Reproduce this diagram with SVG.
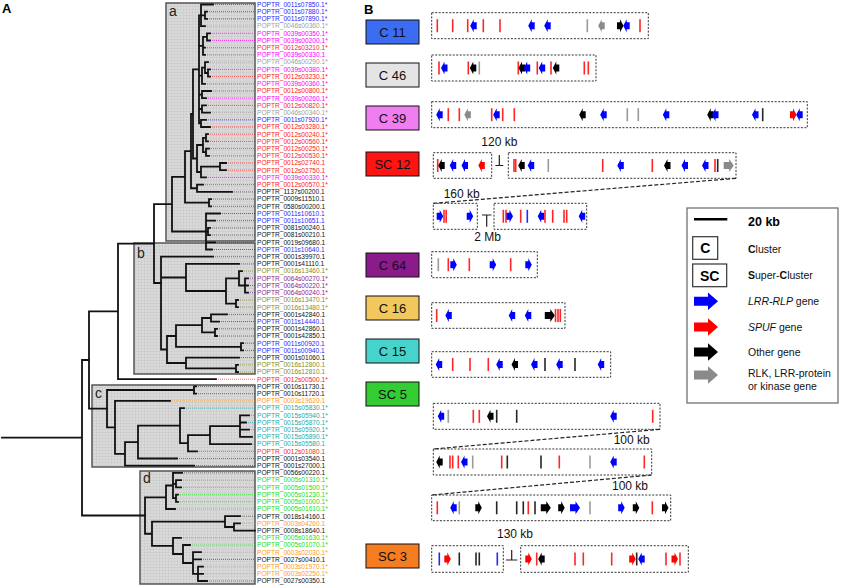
<svg xmlns="http://www.w3.org/2000/svg" xmlns:xlink="http://www.w3.org/1999/xlink" width="843" height="586" viewBox="0 0 843 586">
<style>
text{font-family:"Liberation Sans",Arial,sans-serif}
.lb{font-size:6.6px}
.cB{fill:#1f1fff}.cG{fill:#a0a0a0}.cM{fill:#ff00ff}.cR{fill:#ff2020}.cK{fill:#111}.cO{fill:#8b8b22}.cP{fill:#8b1e8b}.cY{fill:#ff9c1a}.cT{fill:#22aaaa}.cN{fill:#22dd22}
.dt{fill:none;stroke-width:0.7;stroke-dasharray:1 1}
.tree{fill:none;stroke:#111;stroke-width:1.8;stroke-linecap:square}
.clade{fill:url(#grid);stroke:#555;stroke-width:1.5}
.cl{font-size:14px;fill:#222}
.trk{fill:none;stroke:#333;stroke-width:1;stroke-dasharray:2 1.5}
.u{fill:#0000ff}.s{fill:#ff0000}.o{fill:#000}.k{fill:#8a8a8a}
.conn{fill:none;stroke:#222;stroke-width:1.2;stroke-dasharray:4 2}
.gap{fill:none;stroke:#222;stroke-width:1.2}
.kb{font-size:12px;fill:#111;text-anchor:middle}
.lab{stroke:#111;stroke-width:1}
.labt{font-size:13px;fill:#111;text-anchor:middle}
.lg{font-size:10.5px;fill:#111}
</style>
<defs>
<pattern id="grid" width="3" height="3" patternUnits="userSpaceOnUse"><rect width="3" height="3" fill="#dadada"/><path d="M0 0.25H3M0.25 0V3" stroke="#c2c2c2" stroke-width="0.5"/></pattern>
<rect id="b" x="-0.8" y="-6.5" width="1.6" height="13" opacity="0.85"/>
<path id="l" d="M-3.5 0L0-6.5V-3.5H3V3.5H0V6.5Z"/>
<path id="r" d="M3.5 0L0-6.5V-3.5H-3V3.5H0V6.5Z"/>
<path id="R" d="M5 0L0.5-6.5V-3.5H-5V3.5H0.5V6.5Z"/>
<path id="la" d="M0-4.5H14V-8.7L24 0 14 8.7V4.5H0Z"/>
</defs>
<rect width="843" height="586" fill="#fff"/>

<g id="panelA">
<text x="2" y="13" font-size="13" font-weight="bold">A</text>
<g id="clade-boxes">
<rect class="clade" x="166" y="3" width="89" height="238"/>
<rect class="clade" x="134" y="243" width="121" height="131"/>
<rect class="clade" x="92" y="385" width="163" height="82"/>
<rect class="clade" x="140" y="471" width="115" height="113"/>
<text class="cl" x="169" y="16">a</text>
<text class="cl" x="137" y="258">b</text>
<text class="cl" x="95" y="398">c</text>
<text class="cl" x="143" y="483">d</text>
</g>
<g id="leaf-lines">
<path class="dt" stroke="#1f1fff" d="M213 4.5H255M207 11.7H255M207 18.9H255M206 119.8H255M220 213.5H255M215 220.7H255M212 249.5H255M219 321.6H255M243 343.2H255M243 350.4H255"/>
<path class="dt" stroke="#a0a0a0" d="M205 26.1H255M208 62.1H255M210 112.6H255"/>
<path class="dt" stroke="#ff00ff" d="M210 33.3H255M210 40.5H255M205 54.9H255M210 69.4H255M205 83.8H255M206 98.2H255M206 177.4H255"/>
<path class="dt" stroke="#ff2020" d="M205 47.7H255M210 76.6H255M211 91H255M206 105.4H255M210 127H255M208 134.2H255M208 141.4H255M209 148.6H255M209 155.8H255M226 163H255M226 170.2H255M203 184.6H255M216 379.2H255M197 451.3H255"/>
<path class="dt" stroke="#444" d="M232 191.9H255M211 199.1H255M211 206.3H255M210 227.9H255M210 235.1H255M215 242.3H255M213 256.7H255M239 263.9H255M227 314.4H255M217 328.8H255M217 336H255M239 357.6H255M196 386.4H255M196 393.7H255M177 458.5H255M194 465.7H255M182 472.9H255M240 516.2H255M201 559.4H255M207 581H255"/>
<path class="dt" stroke="#8b8b22" d="M242 271.1H255M238 300H255M238 307.2H255M238 364.8H255M238 372H255"/>
<path class="dt" stroke="#8b1e8b" d="M248 278.3H255M248 285.5H255M248 292.7H255"/>
<path class="dt" stroke="#ff9c1a" d="M170 400.9H255M240 523.4H255M201 552.2H255M203 566.6H255M203 573.8H255"/>
<path class="dt" stroke="#22aaaa" d="M184 408.1H255M249 415.3H255M246 422.5H255M249 429.7H255M252 436.9H255M251 444.1H255"/>
<path class="dt" stroke="#22dd22" d="M181 480.1H255M181 487.4H255M178 494.6H255M178 501.8H255M175 509H255M181 537.8H255M190 545H255"/>
</g>
<g id="tree">
<path class="tree" d="M205 11.7V18.9M205 11.7H207M205 18.9H207M201 4.5V26.1M201 4.5H213M201 15.3H205M201 26.1H205
M207 33.3V40.5M207 33.3H210M207 40.5H210M203 36.9V54.9M203 36.9H207M203 47.7H205M203 54.9H205
M208 69.4V76.6M208 69.4H210M208 76.6H210M205 62.1V73M205 62.1H208M205 73H208M202 67.55V83.8M202 67.55H205M202 83.8H205
M202 91V98.2M202 91H211M202 98.2H206M202 105.4V112.6M202 105.4H206M202 112.6H210M201 119.8V127M201 119.8H206M201 127H210
M199 15.3V123.4M199 15.3H201M199 45.9H203M199 75.7H202M199 94.6H202M199 109H202M199 123.4H201
M206 134.2V141.4M206 134.2H208M206 141.4H208M206 148.6V155.8M206 148.6H209M206 155.8H209M203 137.8V152.2M203 137.8H206M203 152.2H206
M220 163V170.2M220 163H226M220 170.2H226M201 166.6V177.4M201 166.6H220M201 177.4H206M197 145V172M197 145H203M197 172H201
M193 69.35V158.5M193 69.35H199M193 158.5H197M197 184.6V191.9M197 184.6H203M197 191.9H232M191 113.9V188.25M191 113.9H193M191 188.25H197
M209 199.1V206.3M209 199.1H211M209 206.3H211M185 151.1V202.7M185 151.1H191M185 202.7H209
M208 227.9V235.1M208 227.9H210M208 235.1H210M206 213.5V249.5M206 213.5H220M206 220.7H215M206 231.5H208M206 242.3H215M206 249.5H212
M172 176.9V231.5M172 176.9H185M172 231.5H206M154 204.2V283M154 204.2H172M154 283H161"/>
<path class="tree" d="M245 278.3V292.7M245 278.3H248M245 285.5H248M245 292.7H248M239 271.1V285.5M239 271.1H242M239 285.5H245
M236 300V307.2M236 300H238M236 307.2H238M226 278.3V303.6M226 278.3H239M226 303.6H236M186 263.9V291M186 263.9H239M186 291H226
M211 314.4V321.6M211 314.4H227M211 321.6H219M215 328.8V336M215 328.8H217M215 336H217M202 318V332.4M202 318H211M202 332.4H215
M241 343.2V350.4M241 343.2H243M241 350.4H243M176 325.2V346.8M176 325.2H202M176 346.8H241
M236 364.8V372M236 364.8H238M236 372H238M186 357.6V368.4M186 357.6H239M186 368.4H236M167 336V363M167 336H176M167 363H186
M161 256.7V349.5M161 256.7H213M161 277.5H186M161 349.5H167
M118 243.6V379.2M118 243.6H154M118 379.2H216M89 311.4V408.7M89 311.4H118M89 408.7H107
M82 360V515.5M82 360H89M82 515.5H145M2 437.7H82"/>
<path class="tree" d="M240 415.3V436.9M240 415.3H249M240 422.5H246M240 429.7H249M240 436.9H252M210 426.1V444.1M210 426.1H240M210 444.1H251
M188 435.1V451.3M188 435.1H210M188 451.3H197M180 408.1V443.2M180 408.1H184M180 443.2H188M138 425.7V458.5M138 425.7H180M138 458.5H177
M125 442.1V465.7M125 442.1H138M125 465.7H194M115 400.9V453.9M115 400.9H170M115 453.9H125
M194 386.4V393.7M194 386.4H196M194 393.7H196M107 390V427.4M107 390H194M107 427.4H115"/>
<path class="tree" d="M176 480.1V487.4M176 480.1H181M176 487.4H181M176 494.6V501.8M176 494.6H178M176 501.8H178M173 472.9V498.2M173 472.9H182M173 483.8H176M173 498.2H176
M166 485.5V509M166 485.5H173M166 509H175M234 523.4V530.6M234 523.4H240M234 530.6H255M225 516.2V527M225 516.2H240M225 527H234
M198 566.6V581M198 566.6H203M198 573.8H203M198 581H207M193 552.2V573.8M193 552.2H201M193 559.4H201M193 573.8H198
M183 545V563M183 545H190M183 563H193M173 537.8V554M173 537.8H181M173 554H183M152 521.6V545.9M152 521.6H225M152 545.9H173
M145 497.3V533.75M145 497.3H166M145 533.75H152"/>
</g>
<g id="leaf-labels" class="lb">
<text class="cB" x="257" y="6.8">POPTR_0011s07850.1*</text>
<text class="cB" x="257" y="14">POPTR_0011s07880.1*</text>
<text class="cB" x="257" y="21.2">POPTR_0011s07890.1*</text>
<text class="cG" x="257" y="28.4">POPTR_0046s00360.1*</text>
<text class="cM" x="257" y="35.6">POPTR_0039s00350.1*</text>
<text class="cM" x="257" y="42.8">POPTR_0039s00200.1*</text>
<text class="cR" x="257" y="50">POPTR_0012s03210.1*</text>
<text class="cM" x="257" y="57.2">POPTR_0039s00330.1</text>
<text class="cG" x="257" y="64.4">POPTR_0046s00290.1*</text>
<text class="cM" x="257" y="71.7">POPTR_0039s00380.1*</text>
<text class="cR" x="257" y="78.9">POPTR_0012s03230.1*</text>
<text class="cM" x="257" y="86.1">POPTR_0039s00360.1*</text>
<text class="cR" x="257" y="93.3">POPTR_0012s00800.1*</text>
<text class="cM" x="257" y="100.5">POPTR_0039s00260.1*</text>
<text class="cR" x="257" y="107.7">POPTR_0012s00820.1*</text>
<text class="cG" x="257" y="114.9">POPTR_0046s00340.1*</text>
<text class="cB" x="257" y="122.1">POPTR_0011s07920.1*</text>
<text class="cR" x="257" y="129.3">POPTR_0012s03280.1*</text>
<text class="cR" x="257" y="136.5">POPTR_0012s00240.1*</text>
<text class="cR" x="257" y="143.7">POPTR_0012s00560.1*</text>
<text class="cR" x="257" y="150.9">POPTR_0012s00250.1*</text>
<text class="cR" x="257" y="158.1">POPTR_0012s00530.1*</text>
<text class="cR" x="257" y="165.3">POPTR_0012s02740.1</text>
<text class="cR" x="257" y="172.5">POPTR_0012s02750.1</text>
<text class="cM" x="257" y="179.7">POPTR_0039s00330.1*</text>
<text class="cR" x="257" y="186.9">POPTR_0012s00570.1*</text>
<text class="cK" x="257" y="194.2">POPTR_1137s00200.1</text>
<text class="cK" x="257" y="201.4">POPTR_0009s11510.1</text>
<text class="cK" x="257" y="208.6">POPTR_0580s00200.1</text>
<text class="cB" x="257" y="215.8">POPTR_0011s10610.1</text>
<text class="cB" x="257" y="223">POPTR_0011s10651.1</text>
<text class="cK" x="257" y="230.2">POPTR_0081s00240.1</text>
<text class="cK" x="257" y="237.4">POPTR_0081s00210.1</text>
<text class="cK" x="257" y="244.6">POPTR_0019s09680.1</text>
<text class="cB" x="257" y="251.8">POPTR_0011s10640.1</text>
<text class="cK" x="257" y="259">POPTR_0001s39970.1</text>
<text class="cK" x="257" y="266.2">POPTR_0001s41110.1</text>
<text class="cO" x="257" y="273.4">POPTR_0016s13460.1*</text>
<text class="cP" x="257" y="280.6">POPTR_0064s00270.1*</text>
<text class="cP" x="257" y="287.8">POPTR_0064s00220.1*</text>
<text class="cP" x="257" y="295">POPTR_0064s00240.1*</text>
<text class="cO" x="257" y="302.3">POPTR_0016s13470.1*</text>
<text class="cO" x="257" y="309.5">POPTR_0016s13480.1*</text>
<text class="cK" x="257" y="316.7">POPTR_0001s42840.1</text>
<text class="cB" x="257" y="323.9">POPTR_0011s14440.1</text>
<text class="cK" x="257" y="331.1">POPTR_0001s42860.1</text>
<text class="cK" x="257" y="338.3">POPTR_0001s42850.1</text>
<text class="cB" x="257" y="345.5">POPTR_0011s00920.1</text>
<text class="cB" x="257" y="352.7">POPTR_0011s00940.1</text>
<text class="cK" x="257" y="359.9">POPTR_0001s01060.1</text>
<text class="cO" x="257" y="367.1">POPTR_0016s12800.1</text>
<text class="cO" x="257" y="374.3">POPTR_0016s12810.1</text>
<text class="cR" x="257" y="381.5">POPTR_0012s00500.1*</text>
<text class="cK" x="257" y="388.7">POPTR_0010s11730.1</text>
<text class="cK" x="257" y="396">POPTR_0010s11720.1</text>
<text class="cY" x="257" y="403.2">POPTR_0003s19620.1</text>
<text class="cT" x="257" y="410.4">POPTR_0015s05830.1*</text>
<text class="cT" x="257" y="417.6">POPTR_0015s05940.1*</text>
<text class="cT" x="257" y="424.8">POPTR_0015s05870.1*</text>
<text class="cT" x="257" y="432">POPTR_0015s05920.1*</text>
<text class="cT" x="257" y="439.2">POPTR_0015s05890.1*</text>
<text class="cT" x="257" y="446.4">POPTR_0015s05580.1</text>
<text class="cR" x="257" y="453.6">POPTR_0012s01080.1</text>
<text class="cK" x="257" y="460.8">POPTR_0001s03540.1</text>
<text class="cK" x="257" y="468">POPTR_0001s27000.1</text>
<text class="cK" x="257" y="475.2">POPTR_0056s00220.1</text>
<text class="cN" x="257" y="482.4">POPTR_0005s01310.1*</text>
<text class="cN" x="257" y="489.7">POPTR_0005s01500.1*</text>
<text class="cN" x="257" y="496.9">POPTR_0005s01230.1*</text>
<text class="cN" x="257" y="504.1">POPTR_0005s01000.1*</text>
<text class="cN" x="257" y="511.3">POPTR_0005s01610.1*</text>
<text class="cK" x="257" y="518.5">POPTR_0018s14160.1</text>
<text class="cY" x="257" y="525.7">POPTR_0003s04260.1</text>
<text class="cK" x="257" y="532.9">POPTR_0008s18640.1</text>
<text class="cN" x="257" y="540.1">POPTR_0005s01630.1*</text>
<text class="cN" x="257" y="547.3">POPTR_0005s01070.1*</text>
<text class="cY" x="257" y="554.5">POPTR_0003s02030.1*</text>
<text class="cK" x="257" y="561.7">POPTR_0027s00410.1</text>
<text class="cY" x="257" y="568.9">POPTR_0003s01970.1*</text>
<text class="cY" x="257" y="576.1">POPTR_0003s02250.1*</text>
<text class="cK" x="257" y="583.3">POPTR_0027s00350.1</text>
</g>
</g>

<g id="panelB">
<text x="364" y="14" font-size="13" font-weight="bold">B</text>

<g id="row-labels">
<g id="lab-C11"><rect class="lab" x="366" y="20" width="53" height="24" fill="#3b6cf2"/><text class="labt" x="392.5" y="36.5">C 11</text></g>
<g id="lab-C46"><rect class="lab" x="366" y="63" width="53" height="24" fill="#e4e4e4"/><text class="labt" x="392.5" y="79.5">C 46</text></g>
<g id="lab-C39"><rect class="lab" x="366" y="106" width="53" height="24" fill="#f07ef0"/><text class="labt" x="392.5" y="122.5">C 39</text></g>
<g id="lab-SC12"><rect class="lab" x="366" y="152" width="53" height="24" fill="#ff1414"/><text class="labt" x="392.5" y="168.5">SC 12</text></g>
<g id="lab-C64"><rect class="lab" x="366" y="253" width="53" height="24" fill="#8b1a8b"/><text class="labt" x="392.5" y="269.5">C 64</text></g>
<g id="lab-C16"><rect class="lab" x="366" y="296" width="53" height="24" fill="#f2c75c"/><text class="labt" x="392.5" y="312.5">C 16</text></g>
<g id="lab-C15"><rect class="lab" x="366" y="339" width="53" height="24" fill="#46d3cb"/><text class="labt" x="392.5" y="355.5">C 15</text></g>
<g id="lab-SC5"><rect class="lab" x="366" y="382" width="53" height="24" fill="#33cc33"/><text class="labt" x="392.5" y="398.5">SC 5</text></g>
<g id="lab-SC3"><rect class="lab" x="366" y="544" width="53" height="24" fill="#f57c20"/><text class="labt" x="392.5" y="560.5">SC 3</text></g>
</g>

<g id="connectors">
<path class="conn" d="M736 178.3L433.3 203.3"/>
<path class="conn" d="M660 429.3L433.3 449"/>
<path class="conn" d="M651.7 475L431.7 495"/>
<path class="gap" d="M499.3 155V165.5M495.3 165.5H503.3"/>
<path class="gap" d="M482 215H491.4M486.7 215V226.7"/>
<path class="gap" d="M511.7 550V560M506 560H517.3"/>
<text class="kb" x="499.3" y="145.5">120 kb</text>
<text class="kb" x="461.7" y="197.5">160 kb</text>
<text class="kb" x="487.7" y="241">2 Mb</text>
<text class="kb" x="631.7" y="444.3">100 kb</text>
<text class="kb" x="630" y="490.3">100 kb</text>
<text class="kb" x="515" y="538" font-size="10.5">130 kb</text>
</g>

<g id="track-C11">
<rect class="trk" x="431.7" y="12.7" width="216.6" height="26"/>
<g transform="translate(0 25.7)">
<use href="#b" x="437.3" class="s"/><use href="#b" x="452.7" class="s"/><use href="#b" x="467.7" class="s"/><use href="#l" x="473.7" class="u"/><use href="#b" x="483.3" class="s"/><use href="#b" x="500" class="s"/><use href="#l" x="531.7" class="u"/><use href="#l" x="547.7" class="u"/><use href="#b" x="587.3" class="k"/><use href="#l" x="601.7" class="k"/><use href="#r" x="620" class="o"/><use href="#l" x="626.7" class="u"/><use href="#b" x="640" class="s"/>
</g></g>

<g id="track-C46">
<rect class="trk" x="431.7" y="55" width="164.3" height="26"/>
<g transform="translate(0 68)">
<use href="#b" x="439" class="s"/><use href="#l" x="444.5" class="u"/><use href="#b" x="468.3" class="s"/><use href="#l" x="473.3" class="o"/><use href="#b" x="479.3" class="k"/><use href="#b" x="518.3" class="s"/><use href="#l" x="522" class="o"/><use href="#l" x="527.2" class="u"/><use href="#b" x="537.3" class="s"/><use href="#l" x="542.2" class="u"/><use href="#b" x="551" class="s"/><use href="#l" x="556.3" class="o"/><use href="#b" x="584.3" class="s"/><use href="#b" x="588.3" class="s"/>
</g></g>

<g id="track-C39">
<rect class="trk" x="431.7" y="101.7" width="375.6" height="26"/>
<g transform="translate(0 114.7)">
<use href="#l" x="439.7" class="u"/><use href="#b" x="448.3" class="s"/><use href="#b" x="459.3" class="s"/><use href="#l" x="467.8" class="k"/><use href="#b" x="491.7" class="s"/><use href="#l" x="496.7" class="u"/><use href="#b" x="502.7" class="s"/><use href="#b" x="514.3" class="s"/><use href="#l" x="582.7" class="o"/><use href="#l" x="603.7" class="u"/><use href="#b" x="627.3" class="k"/><use href="#b" x="638.3" class="k"/><use href="#l" x="666.3" class="u"/><use href="#l" x="710.7" class="o"/><use href="#l" x="715.5" class="u"/><use href="#l" x="755.5" class="u"/><use href="#b" x="762.7" class="o"/><use href="#r" x="793" class="s"/><use href="#l" x="799.7" class="u"/>
</g></g>

<g id="track-SC12">
<rect class="trk" x="433.3" y="152.7" width="58.4" height="25.6"/>
<rect class="trk" x="508.3" y="152.7" width="227.7" height="25.6"/>
<rect class="trk" x="433.3" y="203.3" width="44" height="26"/>
<rect class="trk" x="494" y="203.3" width="92.7" height="26"/>
<g transform="translate(0 165.5)">
<use href="#b" x="437.7" class="s"/><use href="#l" x="441.7" class="o"/><use href="#l" x="453.2" class="u"/><use href="#l" x="465" class="u"/><use href="#l" x="481.8" class="s"/>
<use href="#b" x="514" class="s"/><use href="#b" x="515.7" class="s"/><use href="#l" x="521.7" class="o"/><use href="#l" x="531.2" class="u"/><use href="#b" x="548.3" class="k"/><use href="#b" x="602.7" class="s"/><use href="#l" x="620.8" class="u"/><use href="#b" x="652.3" class="s"/><use href="#l" x="667.5" class="o"/><use href="#l" x="685" class="u"/><use href="#l" x="705.5" class="u"/><use href="#b" x="715" class="s"/><use href="#b" x="717.7" class="o"/><use href="#R" x="728.7" class="k"/>
</g>
<g transform="translate(0 216.3)">
<use href="#r" x="439.7" class="u"/><use href="#b" x="444" class="s"/><use href="#b" x="446.2" class="s"/><use href="#r" x="469.7" class="u"/>
<use href="#b" x="503.3" class="s"/><use href="#b" x="506" class="s"/><use href="#r" x="509.5" class="u"/><use href="#b" x="520.7" class="s"/><use href="#b" x="527.3" class="u"/><use href="#l" x="541.2" class="u"/><use href="#b" x="545" class="s"/><use href="#b" x="552.7" class="s"/><use href="#b" x="564" class="s"/><use href="#b" x="566.7" class="s"/><use href="#l" x="582.2" class="u"/>
</g></g>

<g id="track-C64">
<rect class="trk" x="431.7" y="251.7" width="105.6" height="26"/>
<g transform="translate(0 264.7)">
<use href="#b" x="438.3" class="k"/><use href="#b" x="448.3" class="s"/><use href="#r" x="453.3" class="u"/><use href="#b" x="469.3" class="s"/><use href="#r" x="492.7" class="u"/><use href="#b" x="510.7" class="s"/><use href="#r" x="528.3" class="u"/>
</g></g>

<g id="track-C16">
<rect class="trk" x="431.7" y="302.7" width="133.3" height="25.6"/>
<g transform="translate(0 315.5)">
<use href="#b" x="436.7" class="s"/><use href="#l" x="448.8" class="u"/><use href="#l" x="512.2" class="u"/><use href="#l" x="528.3" class="u"/><use href="#R" x="549.8" class="o"/><use href="#b" x="555.5" class="s"/><use href="#b" x="558" class="s"/><use href="#b" x="560.3" class="s"/>
</g></g>

<g id="track-C15">
<rect class="trk" x="431.7" y="351.7" width="179" height="25.6"/>
<g transform="translate(0 364.5)">
<use href="#l" x="439.2" class="u"/><use href="#b" x="452.7" class="s"/><use href="#b" x="470" class="s"/><use href="#b" x="488.3" class="s"/><use href="#l" x="499.7" class="u"/><use href="#l" x="515" class="o"/><use href="#l" x="534.5" class="u"/><use href="#b" x="545" class="o"/><use href="#l" x="559.7" class="u"/><use href="#b" x="575" class="o"/><use href="#l" x="601.2" class="u"/>
</g></g>

<g id="track-SC5">
<rect class="trk" x="433.3" y="403.3" width="226.7" height="26"/>
<rect class="trk" x="433.3" y="449" width="218.4" height="26"/>
<rect class="trk" x="431.7" y="495" width="239" height="25.7"/>
<g transform="translate(0 416.3)">
<use href="#l" x="441.2" class="u"/><use href="#b" x="448.3" class="k"/><use href="#b" x="473.3" class="s"/><use href="#b" x="479.3" class="s"/><use href="#l" x="490.5" class="o"/><use href="#b" x="496.7" class="o"/><use href="#b" x="516.7" class="o"/><use href="#l" x="613.7" class="u"/><use href="#b" x="652.7" class="s"/>
</g>
<g transform="translate(0 462)">
<use href="#l" x="439.7" class="o"/><use href="#b" x="450" class="s"/><use href="#b" x="452.7" class="s"/><use href="#b" x="458.3" class="s"/><use href="#l" x="464.5" class="u"/><use href="#b" x="472.7" class="k"/><use href="#b" x="501.7" class="s"/><use href="#b" x="507.3" class="o"/><use href="#b" x="541" class="o"/><use href="#b" x="559.3" class="s"/><use href="#b" x="590" class="k"/><use href="#l" x="613.7" class="u"/><use href="#b" x="644.3" class="s"/>
</g>
<g transform="translate(0 507.8)">
<use href="#b" x="437.3" class="s"/><use href="#l" x="453.7" class="u"/><use href="#b" x="459.3" class="k"/><use href="#r" x="478.3" class="o"/><use href="#b" x="496.7" class="o"/><use href="#b" x="516.7" class="o"/><use href="#b" x="523.3" class="o"/><use href="#b" x="528.3" class="s"/><use href="#b" x="535" class="o"/><use href="#R" x="545.8" class="o"/><use href="#r" x="561.2" class="o"/><use href="#R" x="575" class="u"/><use href="#b" x="590" class="k"/><use href="#r" x="621.2" class="u"/><use href="#r" x="635.8" class="o"/><use href="#b" x="652.3" class="s"/><use href="#r" x="665" class="o"/>
</g></g>

<g id="track-SC3">
<rect class="trk" x="431.7" y="545.7" width="71.6" height="26.6"/>
<rect class="trk" x="520.7" y="545.7" width="167.6" height="26.6"/>
<g transform="translate(0 559)">
<use href="#b" x="439.3" class="u"/><use href="#r" x="447.3" class="s"/><use href="#b" x="459.3" class="o"/><use href="#b" x="476" class="o"/><use href="#b" x="479.3" class="o"/><use href="#b" x="497.3" class="u"/>
<use href="#r" x="528.3" class="s"/><use href="#b" x="536.7" class="s"/><use href="#l" x="541.7" class="o"/><use href="#b" x="575" class="s"/><use href="#b" x="583.3" class="s"/><use href="#b" x="611.7" class="s"/><use href="#r" x="632.2" class="s"/><use href="#b" x="636.7" class="o"/><use href="#l" x="641.7" class="u"/><use href="#b" x="666" class="s"/><use href="#r" x="674.5" class="s"/><use href="#b" x="680" class="s"/>
</g></g>

<g id="legend">
<rect x="687" y="208" width="151" height="195" fill="#fff" stroke="#666" stroke-width="1.2"/>
<path d="M694 219.3H727.3" stroke="#000" stroke-width="2.5"/>
<text x="748" y="226" font-size="12.5" font-weight="bold">20 kb</text>
<rect x="692.7" y="236.7" width="25" height="22.6" fill="#fff" stroke="#333" stroke-width="1.2"/>
<text x="705.2" y="253" font-size="14" font-weight="bold" text-anchor="middle">C</text>
<text class="lg" x="748" y="252.5"><tspan font-weight="bold">C</tspan>luster</text>
<rect x="692.7" y="264" width="34" height="22.7" fill="#fff" stroke="#333" stroke-width="1.2"/>
<text x="709.7" y="280.5" font-size="14" font-weight="bold" text-anchor="middle">SC</text>
<text class="lg" x="748" y="279"><tspan font-weight="bold">S</tspan>uper-<tspan font-weight="bold">C</tspan>luster</text>
<use href="#la" transform="translate(694 301.3)" class="u"/>
<text class="lg" x="748" y="305"><tspan font-style="italic">LRR-RLP</tspan> gene</text>
<use href="#la" transform="translate(694 327)" class="s"/>
<text class="lg" x="748" y="330.7"><tspan font-style="italic">SPUF</tspan> gene</text>
<use href="#la" transform="translate(694 352)" class="o"/>
<text class="lg" x="748" y="355.7">Other gene</text>
<use href="#la" transform="translate(694 375)" class="k"/>
<text class="lg" x="748" y="377">RLK, LRR-protein</text>
<text class="lg" x="748" y="390.4">or kinase gene</text>
</g>
</g>
</svg>
